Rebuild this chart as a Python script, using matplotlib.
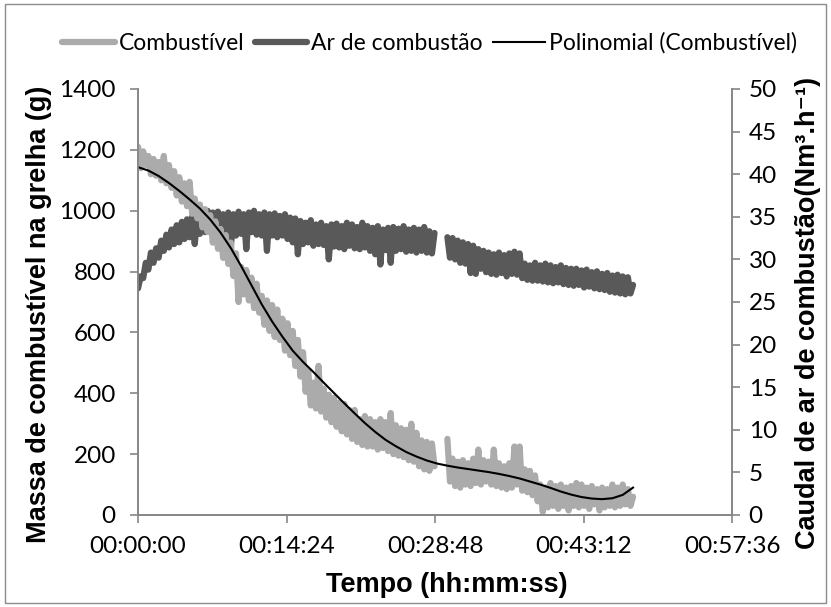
import numpy as np
import matplotlib
matplotlib.use("Agg")
import matplotlib.pyplot as plt
from matplotlib.patches import Rectangle

# one reading every 15 s
step = 15
fuel_mass = [1210, 1140, 1195, 1150, 1180, 1120, 1170, 1115, 1160, 1100,
             1180, 1090, 1150, 1075, 1130, 1050, 1110, 1030, 1090, 1015,
             1095, 990, 1040, 975, 1020, 945, 1005, 930, 985, 895,
             965, 875, 940, 845, 920, 825, 895, 785, 860, 700,
             815, 725, 805, 705, 780, 680, 760, 665, 720, 625,
             705, 605, 690, 585, 675, 575, 645, 540, 630, 525,
             605, 490, 575, 455, 535, 405, 475, 360, 435, 350,
             490, 340, 415, 320, 395, 305, 385, 290, 370, 275,
             365, 265, 345, 250, 345, 240, 315, 230, 325, 225,
             315, 225, 305, 215, 315, 220, 305, 210, 335, 200,
             295, 195, 285, 190, 280, 180, 300, 175, 270, 160,
             245, 150, 240, 145, 235, 160, np.nan, np.nan, np.nan, np.nan,
             250, 110, 185, 95, 175, 90, 180, 100, 170, 95,
             185, 105, 215, 100, 180, 110, 175, 100, 215, 95,
             170, 90, 160, 85, 170, 90, 225, 100, 225, 80,
             150, 75, 145, 65, 130, 45, 100, 10, 90, 25,
             105, 30, 95, 20, 100, 30, 90, 15, 95, 30,
             105, 25, 100, 30, 90, 20, 95, 35, 85, 15,
             90, 25, 85, 30, 100, 25, 90, 30, 100, 35,
             85, 30, 60]
air_flow = [26.6, 28.0, 27.8, 29.6, 28.8, 30.8, 29.6, 31.3, 30.2, 32.2,
            31.0, 32.9, 31.4, 33.5, 31.8, 34.0, 32.0, 34.4, 32.4, 34.7,
            32.6, 35.0, 31.8, 35.2, 33.0, 35.6, 33.2, 35.7, 33.4, 35.5,
            33.0, 35.6, 32.8, 35.3, 33.2, 35.5, 31.4, 35.3, 32.8, 35.6,
            33.0, 35.3, 31.2, 35.5, 33.2, 35.7, 32.9, 35.3, 32.8, 35.5,
            31.0, 35.3, 32.8, 35.4, 32.6, 35.1, 32.8, 35.3, 32.4, 34.9,
            32.0, 34.8, 30.6, 34.5, 31.8, 34.3, 32.0, 34.6, 31.6, 34.1,
            31.8, 34.3, 31.7, 33.9, 30.0, 34.1, 31.5, 34.2, 31.4, 33.9,
            31.2, 34.3, 31.6, 34.1, 31.3, 33.8, 31.2, 34.3, 31.4, 33.9,
            31.0, 33.7, 30.6, 33.9, 29.4, 33.5, 31.1, 33.7, 29.6, 33.8,
            31.0, 33.6, 31.2, 33.9, 30.9, 33.5, 31.0, 33.7, 30.8, 33.5,
            31.0, 33.8, 30.8, 33.3, 30.7, 33.1, np.nan, np.nan, np.nan, np.nan,
            32.6, 30.2, 32.5, 30.0, 32.2, 29.6, 32.0, 29.5, 31.8, 28.4,
            31.6, 28.3, 31.2, 28.9, 31.0, 28.5, 30.8, 28.3, 30.6, 28.2,
            30.8, 28.4, 30.5, 28.0, 30.7, 28.3, 30.9, 28.2, 30.7, 27.8,
            29.5, 27.6, 29.3, 27.5, 29.6, 27.5, 29.3, 27.4, 29.5, 27.3,
            29.3, 27.2, 29.1, 27.3, 29.3, 27.1, 29.0, 27.0, 28.9, 26.9,
            28.9, 27.0, 28.7, 26.7, 28.8, 26.8, 28.5, 26.6, 28.6, 26.5,
            28.3, 26.4, 28.4, 26.2, 28.1, 26.1, 28.2, 26.0, 28.0, 25.9,
            27.9, 26.0, 27.0]

# polynomial trendline of the fuel mass, read every 60 s
trend_step = 60
fuel_trend = [1143, 1132, 1114, 1091, 1065, 1037, 1007, 971, 928, 877,
              818, 755, 692, 636, 586, 540, 503, 470, 435, 401,
              367, 334, 302, 273, 247, 226, 207, 192, 179, 169,
              162, 156, 151, 146, 141, 135, 128, 120, 110, 100,
              89, 77, 67, 59, 54, 52, 55, 66, 90]

x_ticks = [0, 864, 1728, 2592, 3456]
left_ticks = list(range(0, 1401, 200))
right_ticks = list(range(0, 51, 5))

t_fuel = np.arange(len(fuel_mass)) * step
t_air = np.arange(len(air_flow)) * step
t_trend = np.arange(len(fuel_trend)) * trend_step

tick_font = "Lato"
label_font = ["Liberation Sans", "DejaVu Sans"]
axis_gray = "#868686"

fig = plt.figure(figsize=(8.31, 6.07), dpi=100)
fig.patches.append(Rectangle((0.006, 0.006), 0.988, 0.988, transform=fig.transFigure,
                             fill=False, edgecolor="#8c8c8c", linewidth=1))
ax = fig.add_axes([0.1661, 0.1516, 0.7148, 0.7018])
ax2 = ax.twinx()

l1, = ax.plot(t_fuel, fuel_mass, color="#ababab", linewidth=4.5,
              solid_capstyle="round", solid_joinstyle="round", label="Combustível")
l2, = ax2.plot(t_air, air_flow, color="#595959", linewidth=4.5,
               solid_capstyle="round", solid_joinstyle="round", label="Ar de combustão")
l3, = ax.plot(t_trend, fuel_trend, color="black", linewidth=1.5,
              label="Polinomial (Combustível)")
ax.set_zorder(ax2.get_zorder() + 1)
ax.patch.set_visible(False)

ax.set_xlim(0, 3456)
ax.set_ylim(0, 1400)
ax2.set_ylim(0, 50)
ax.set_xticks(x_ticks)
ax.set_xticklabels(["%02d:%02d:%02d" % (s // 3600, s % 3600 // 60, s % 60) for s in x_ticks])
ax.set_yticks(left_ticks)
ax2.set_yticks(right_ticks)

for a in (ax, ax2):
    a.spines["top"].set_visible(False)
    for side in ("left", "right", "bottom"):
        a.spines[side].set_color(axis_gray)
        a.spines[side].set_linewidth(1.2)
    a.tick_params(direction="out", length=6, width=1.2, color=axis_gray,
                  labelsize=17.5, labelcolor="black")
    for lab in a.get_xticklabels() + a.get_yticklabels():
        lab.set_fontfamily(tick_font)
ax.tick_params(axis="y", pad=10)
ax.tick_params(axis="x", pad=9)
ax2.tick_params(axis="y", pad=6)

ax.set_xlabel("Tempo (hh:mm:ss)", fontsize=19.5, fontweight="bold", family=label_font)
ax.set_ylabel("Massa de combustível na grelha (g)", fontsize=19.5, fontweight="bold",
              family=label_font)
ax2.set_ylabel("Caudal de ar de combustão(Nm³.h⁻¹)", fontsize=19.5, fontweight="bold",
               family=label_font)
ax.xaxis.set_label_coords(0.52, -0.135)
ax.yaxis.set_label_coords(-0.145, 0.47)
ax2.yaxis.set_label_coords(1.106, 0.475)

fig.legend([l1, l2, l3], [l1.get_label(), l2.get_label(), l3.get_label()],
           loc="center", bbox_to_anchor=(0.517, 0.929), ncol=3, frameon=False,
           prop={"family": tick_font, "size": 16.5}, handlelength=2.3,
           handletextpad=0.15, columnspacing=0.45)

fig.savefig("out.png", dpi=100)
